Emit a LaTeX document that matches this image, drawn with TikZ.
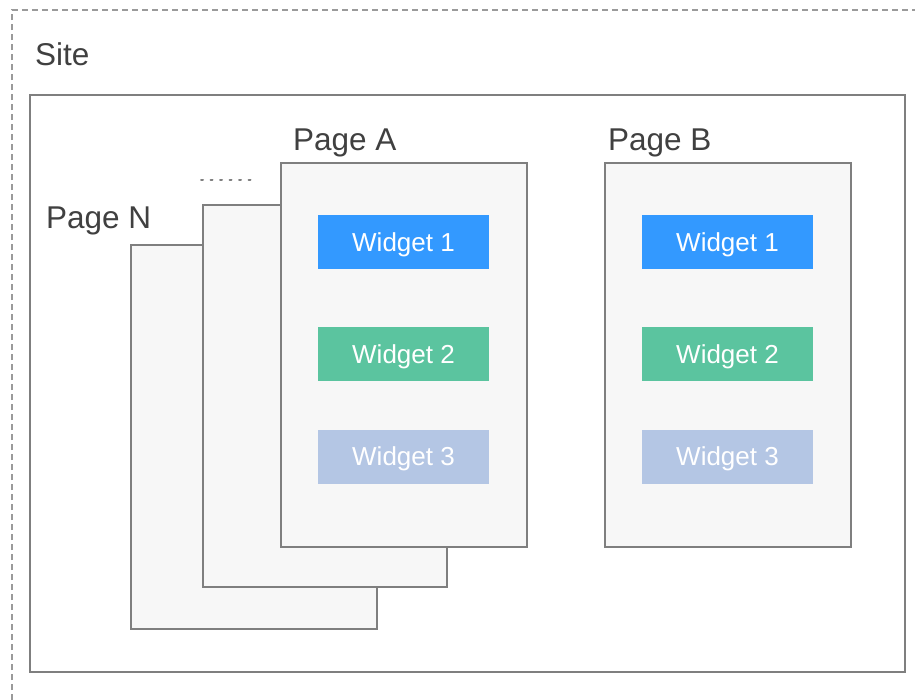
\documentclass[tikz,border=0pt]{standalone}
\usepackage{fontspec}
\setmainfont{Liberation Sans}
\usetikzlibrary{positioning}
\definecolor{framecol}{HTML}{9A9A9A}
\definecolor{boxcol}{HTML}{7F7F7F}
\definecolor{pagefill}{HTML}{F7F7F7}
\definecolor{labelcol}{HTML}{404040}
\definecolor{wblue}{HTML}{3399FF}
\definecolor{wgreen}{HTML}{5BC49F}
\definecolor{wpale}{HTML}{B4C6E4}
\tikzset{
  page/.style={draw=boxcol, fill=pagefill, line width=1.5pt, anchor=north west,
    minimum width=246pt, minimum height=384pt, inner sep=0pt},
  widget/.style={minimum width=171pt, minimum height=54pt, inner sep=0pt,
    text depth=0pt, text=white, font=\fontsize{26}{30}\selectfont},
  pagelabel/.style={anchor=west, inner sep=0pt, text depth=0pt, text=labelcol,
    font=\fontsize{31.5}{36}\selectfont}
}

\begin{document}
\begin{tikzpicture}[x=1pt, y=-1pt]
  \useasboundingbox (0,0) rectangle (915,699);

  % Outer dashed frame, running off the right and bottom edges.
  \draw[framecol, line width=1.3pt, dash pattern=on 6pt off 4pt]
    (12,720) -- (12,10) -- (930,10);
  \node[pagelabel] (sitelabel) at (35,54) {Site};

  % Site box.
  \draw[boxcol, line width=1.5pt] (30,95) rectangle (905,672);

  % Stack of pages behind Page A.
  \node[page] (pageN) at (130,244) {};
  \node[page, minimum width=244pt, minimum height=382pt] (pagemid) at (202,204) {};
  \node[pagelabel] (labelN) at (46,218) {Page N};
  \draw[boxcol, line width=2pt, dash pattern=on 2pt off 7.5pt, line cap=round]
    (201,180) -- (256,180);

  % Page A and Page B.
  \node[page] (pageA) at (280,162) {};
  \node[page] (pageB) at (604,162) {};
  \node[pagelabel] (labelA) at (293,140) {Page A};
  \node[pagelabel] (labelB) at (608,140) {Page B};

  % Widgets.
  \foreach \pg/\x in {A/403.5, B/727.5} {
    \node[widget, fill=wblue] (w1\pg) at (\x,242) {Widget 1};
    \node[widget, fill=wgreen] (w2\pg) at (\x,354) {Widget 2};
    \node[widget, fill=wpale] (w3\pg) at (\x,456.5) {Widget 3};
  }

\end{tikzpicture}
\end{document}
